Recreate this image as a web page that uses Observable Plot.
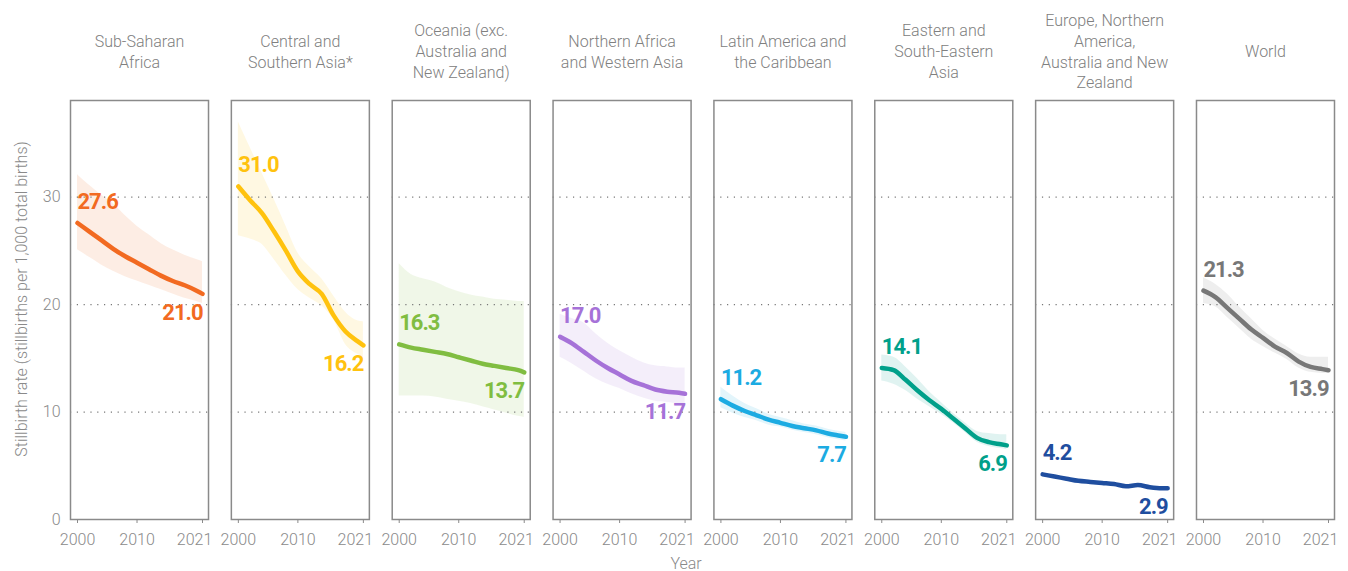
<!DOCTYPE html>
<html>
<head>
<meta charset="utf-8">
<script src="https://cdn.jsdelivr.net/npm/d3@7"></script>
<script src="https://cdn.jsdelivr.net/npm/@observablehq/plot@0.6"></script>
<style>
  html, body { margin: 0; padding: 0; background: #fff; }
  #chart { width: 1348px; height: 571px; }
  .vlabel text { letter-spacing: -1px; }
</style>
</head>
<body>
<div id="chart"></div>
<script>
const regions = [
  "Sub-Saharan Africa",
  "Central and Southern Asia*",
  "Oceania (exc. Australia and New Zealand)",
  "Northern Africa and Western Asia",
  "Latin America and the Caribbean",
  "Eastern and South-Eastern Asia",
  "Europe, Northern America, Australia and New Zealand",
  "World"
];
const titles = [
  "Sub-Saharan\nAfrica",
  "Central and\nSouthern Asia*",
  "Oceania (exc.\nAustralia and\nNew Zealand)",
  "Northern Africa\nand Western Asia",
  "Latin America and\nthe Caribbean",
  "Eastern and\nSouth-Eastern\nAsia",
  "Europe, Northern\nAmerica,\nAustralia and New\nZealand",
  "World"
];
const colors = ["#F26A21", "#FFC20E", "#80BD41", "#A672D8", "#1CABE2", "#00A08A", "#1F4E9F", "#777777"];
const years = [2000, 2002, 2004, 2006, 2008, 2010, 2012, 2014, 2016, 2018, 2020, 2021];
const xTicks = [2000, 2010, 2021];
const xTicksCentered = [2000, 2010];
const xTicksEnd = [2021];
const yTicks = [0, 10, 20, 30];
const gridTicks = [10, 20, 30];
const yLabel = "Stillbirth rate (stillbirths per 1,000 total births)";
const xLabel = "Year";

// Stillbirth rate (central estimate, lower bound, upper bound)
const ssaMid = [27.6, 26.8, 26.0, 25.2, 24.5, 23.9, 23.3, 22.7, 22.2, 21.8, 21.3, 21.0];
const ssaLo  = [25.1, 24.4, 23.7, 23.1, 22.6, 22.2, 21.8, 21.4, 21.0, 20.6, 20.3, 20.1];
const ssaHi  = [32.1, 31.1, 30.2, 29.4, 28.3, 27.3, 26.5, 25.7, 25.1, 24.6, 24.2, 24.0];

const csaMid = [31.0, 29.7, 28.5, 26.8, 25.0, 23.1, 21.9, 21.0, 19.0, 17.5, 16.6, 16.2];
const csaLo  = [26.4, 26.1, 25.6, 24.2, 22.7, 21.4, 20.6, 19.9, 18.6, 16.3, 15.4, 15.1];
const csaHi  = [37.0, 34.6, 32.2, 29.8, 27.3, 24.8, 23.5, 22.4, 20.8, 19.3, 18.5, 18.4];

const oceMid = [16.3, 16.0, 15.8, 15.6, 15.4, 15.1, 14.8, 14.5, 14.3, 14.1, 13.9, 13.7];
const oceLo  = [11.5, 11.5, 11.5, 11.4, 11.2, 11.0, 10.8, 10.5, 10.2, 9.9, 9.6, 9.5];
const oceHi  = [23.8, 22.8, 22.4, 22.1, 21.6, 21.2, 20.9, 20.7, 20.5, 20.4, 20.3, 20.3];

const nawMid = [17.0, 16.4, 15.6, 14.8, 14.1, 13.5, 12.9, 12.5, 12.1, 11.9, 11.8, 11.7];
const nawLo  = [15.1, 14.5, 13.8, 13.1, 12.6, 12.2, 11.7, 11.3, 11.0, 10.9, 10.8, 10.8];
const nawHi  = [19.1, 18.7, 18.3, 17.3, 16.4, 15.7, 15.1, 14.6, 14.3, 14.2, 14.1, 14.1];

const lacMid = [11.2, 10.6, 10.1, 9.7, 9.3, 9.0, 8.7, 8.5, 8.3, 8.0, 7.8, 7.7];
const lacLo  = [10.4, 9.9, 9.5, 9.2, 8.8, 8.6, 8.3, 8.1, 7.9, 7.6, 7.4, 7.3];
const lacHi  = [12.3, 11.5, 10.8, 10.3, 9.8, 9.5, 9.2, 8.9, 8.7, 8.4, 8.2, 8.1];

const easMid = [14.1, 13.9, 13.0, 12.0, 11.1, 10.3, 9.4, 8.5, 7.6, 7.2, 7.0, 6.9];
const easLo  = [12.9, 12.6, 12.0, 11.2, 10.5, 9.8, 9.0, 8.1, 7.2, 6.8, 6.6, 6.5];
const easHi  = [15.3, 15.1, 14.2, 13.1, 11.9, 10.9, 9.9, 9.0, 8.2, 8.0, 7.9, 7.9];

const eurMid = [4.2, 4.0, 3.8, 3.6, 3.5, 3.4, 3.3, 3.1, 3.2, 3.0, 2.9, 2.9];
const eurLo  = [4.1, 3.9, 3.7, 3.5, 3.4, 3.3, 3.2, 3.0, 3.1, 2.9, 2.8, 2.8];
const eurHi  = [4.3, 4.1, 3.9, 3.7, 3.6, 3.5, 3.4, 3.2, 3.3, 3.1, 3.0, 3.0];

const wldMid = [21.3, 20.7, 19.7, 18.7, 17.7, 16.9, 16.1, 15.5, 14.7, 14.2, 14.0, 13.9];
const wldLo  = [20.1, 19.8, 18.8, 17.8, 16.8, 16.1, 15.5, 14.9, 14.1, 13.7, 13.6, 13.6];
const wldHi  = [22.5, 21.9, 21.0, 19.8, 18.7, 17.6, 16.8, 16.1, 15.4, 15.1, 15.1, 15.1];

const mids = [ssaMid, csaMid, oceMid, nawMid, lacMid, easMid, eurMid, wldMid];
const los  = [ssaLo, csaLo, oceLo, nawLo, lacLo, easLo, eurLo, wldLo];
const his  = [ssaHi, csaHi, oceHi, nawHi, lacHi, easHi, eurHi, wldHi];

const rows = [];
regions.forEach((r, i) => {
  years.forEach((yr, j) => {
    rows.push({region: r, year: yr, mid: mids[i][j], lo: los[i][j], hi: his[i][j]});
  });
});
const titleRows = regions.map((r, i) => ({region: r, title: titles[i]}));
const startLabels = regions.map((r, i) => ({region: r, year: years[0], value: mids[i][0]}));
const endLabels = regions.map((r, i) => ({region: r, year: years[years.length - 1], value: mids[i][mids[i].length - 1]}));

const labelFont = "Roboto, sans-serif";

const chart = Plot.plot({
  width: 1348,
  height: 571,
  marginTop: 100,
  marginBottom: 52,
  marginLeft: 70,
  marginRight: 14,
  style: "font-family: Roboto, sans-serif; font-size: 16px; font-weight: 300; color: #8a8a8a; background: #fff; overflow: visible;",
  fx: {domain: regions, paddingInner: 0.142, paddingOuter: 0, round: false, axis: null},
  x: {domain: [2000, 2021], insetLeft: 7, insetRight: 6},
  y: {domain: [0, 39]},
  color: {domain: regions, range: colors},
  marks: [
    Plot.areaY(rows, {fx: "region", x: "year", y1: "lo", y2: "hi", fill: "region", fillOpacity: 0.12, curve: "monotone-x"}),
    Plot.gridY(gridTicks, {stroke: "#777", strokeOpacity: 1, strokeWidth: 1.2, strokeDasharray: "1.2 5.6"}),
    Plot.lineY(rows, {fx: "region", x: "year", y: "mid", stroke: "region", strokeWidth: 4.5, curve: "monotone-x"}),
    Plot.frame({stroke: "#8a8a8a", strokeWidth: 1.5}),
    Plot.axisX(xTicks, {tickSize: 4, tickFormat: () => "", label: null}),
    Plot.axisX(xTicksCentered, {tickSize: 0, tickPadding: 14, tickFormat: d => String(d), label: null, fontSize: 16}),
    Plot.axisX(xTicksEnd, {tickSize: 0, tickPadding: 14, tickFormat: d => String(d), label: null, fontSize: 16, dx: -8}),
    Plot.axisY(yTicks, {tickSize: 0, tickPadding: 10, fontSize: 16, label: null}),
    Plot.text([{region: regions[0], t: yLabel}], {fx: "region", text: "t", frameAnchor: "left",
      dx: -49, dy: -11, rotate: -90, textAnchor: "middle", lineAnchor: "middle", fontSize: 16, fill: "#8a8a8a"}),
    Plot.text(startLabels, {fx: "region", x: "year", y: "value", text: d => d.value.toFixed(1),
      fill: "region", textAnchor: "start", lineAnchor: "bottom", dy: -14, className: "vlabel",
      fontFamily: labelFont, fontWeight: "bold", fontSize: 22}),
    Plot.text(endLabels, {fx: "region", x: "year", y: "value", text: d => d.value.toFixed(1),
      fill: "region", textAnchor: "end", lineAnchor: "top", dy: 10, className: "vlabel",
      fontFamily: labelFont, fontWeight: "bold", fontSize: 22}),
    Plot.text(titleRows, {fx: "region", text: "title", frameAnchor: "top", dy: -50,
      lineAnchor: "middle", lineHeight: 1.3, fontSize: 16, fill: "#808080"}),
    Plot.text([{region: regions[3], t: xLabel}], {fx: "region", text: "t", frameAnchor: "bottom-right",
      dx: -5, dy: 44, textAnchor: "middle", lineAnchor: "middle", fontSize: 16, fill: "#8a8a8a"})
  ]
});
document.getElementById("chart").appendChild(chart);
</script>
</body>
</html>
